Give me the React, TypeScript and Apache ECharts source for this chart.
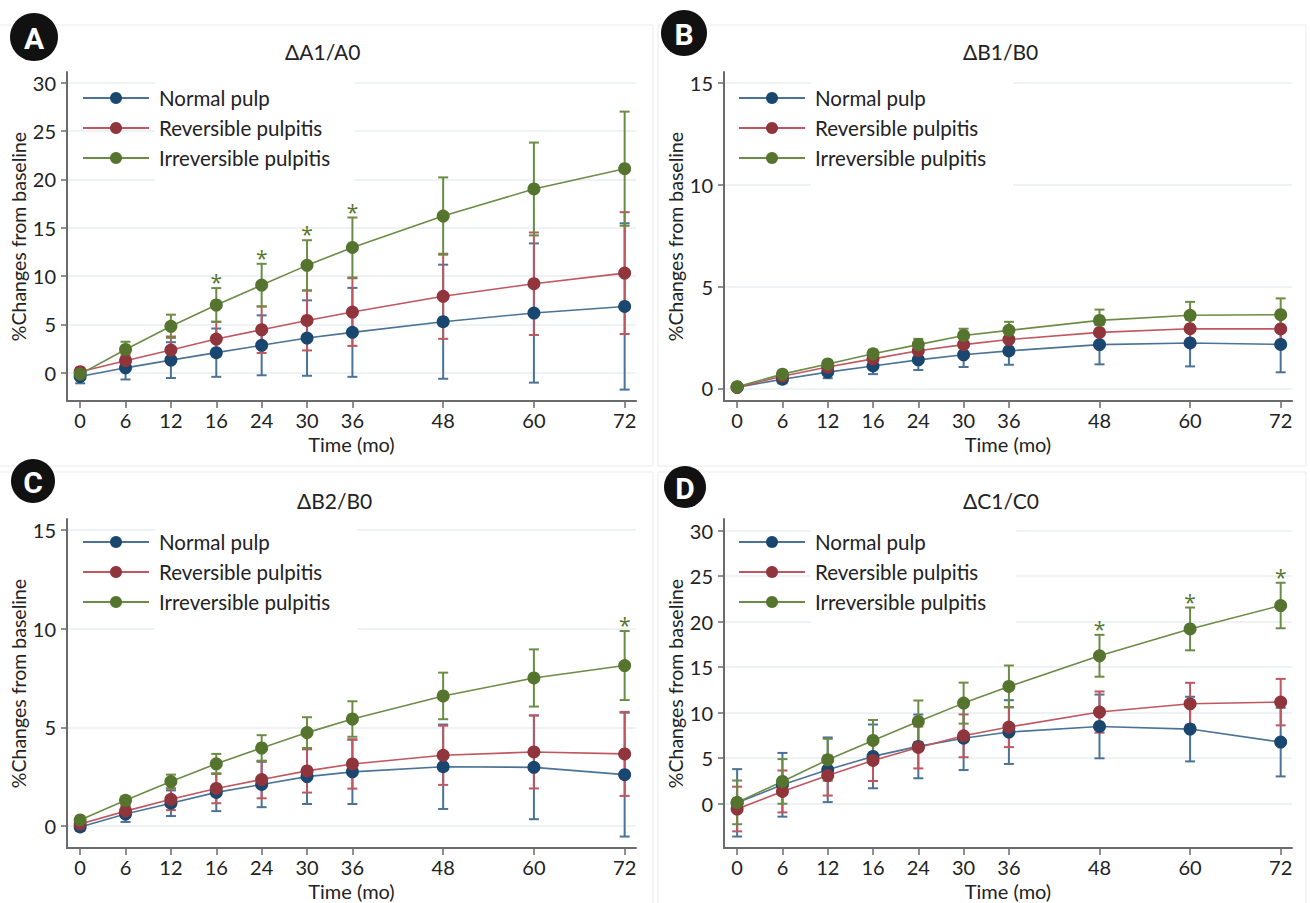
import React, { useEffect, useRef } from "react";
import * as echarts from "echarts";

// ---------- data ----------
const months = [0, 6, 12, 16, 24, 30, 36, 48, 60, 72];
// position of each visit on the (visit-spaced) x axis of the original figure
const visitSlot = [0, 1, 2, 3, 4, 5, 6, 8, 10, 12];
const groups = ["Normal pulp", "Reversible pulpitis", "Irreversible pulpitis"];

// Panel A  ΔA1/A0
const aNormal = [-0.4, 0.5, 1.3, 2.07, 2.83, 3.58, 4.17, 5.27, 6.17, 6.85];
const aNormalErr = [0.7, 1.2, 1.85, 2.5, 3.1, 3.9, 4.6, 5.9, 7.2, 8.6];
const aRev = [0.1, 1.24, 2.34, 3.48, 4.44, 5.4, 6.27, 7.9, 9.2, 10.3];
const aRevErr = [0.4, 0.7, 1.4, 1.8, 2.4, 3.1, 3.5, 4.4, 5.3, 6.3];
const aIrr = [-0.15, 2.4, 4.8, 7.0, 9.06, 11.1, 12.95, 16.2, 19.0, 21.1];
const aIrrErr = [0.3, 0.8, 1.2, 1.75, 2.2, 2.6, 3.1, 4.0, 4.8, 5.9];
const aSig = [16, 24, 30, 36];

// Panel B  ΔB1/B0
const bNormal = [0.05, 0.45, 0.8, 1.1, 1.4, 1.65, 1.84, 2.15, 2.23, 2.16];
const bNormalErr = [0.1, 0.2, 0.3, 0.4, 0.5, 0.6, 0.68, 0.97, 1.15, 1.37];
const bRev = [0.05, 0.6, 1.05, 1.45, 1.85, 2.15, 2.4, 2.75, 2.93, 2.92];
const bRevErr = [0.08, 0.15, 0.2, 0.25, 0.3, 0.35, 0.4, 0.5, 0.6, 0.7];
const bIrr = [0.08, 0.7, 1.2, 1.7, 2.15, 2.6, 2.85, 3.34, 3.59, 3.62];
const bIrrErr = [0.08, 0.12, 0.15, 0.2, 0.28, 0.33, 0.42, 0.53, 0.66, 0.8];
const bSig: number[] = [];

// Panel C  ΔB2/B0
const cNormal = [-0.05, 0.6, 1.15, 1.7, 2.1, 2.5, 2.74, 3.0, 2.97, 2.6];
const cNormalErr = [0.2, 0.4, 0.65, 0.95, 1.15, 1.39, 1.63, 2.14, 2.63, 3.14];
const cRev = [0.1, 0.75, 1.35, 1.9, 2.35, 2.79, 3.14, 3.58, 3.75, 3.65];
const cRevErr = [0.15, 0.3, 0.55, 0.75, 0.95, 1.1, 1.25, 1.5, 1.85, 2.13];
const cIrr = [0.3, 1.3, 2.25, 3.15, 3.95, 4.73, 5.42, 6.59, 7.5, 8.13];
const cIrrErr = [0.1, 0.2, 0.35, 0.5, 0.65, 0.78, 0.9, 1.18, 1.45, 1.75];
const cSig = [72];

// Panel D  ΔC1/C0
const dNormal = [0.1, 2.08, 3.73, 5.2, 6.3, 7.2, 7.87, 8.49, 8.2, 6.77];
const dNormalErr = [3.7, 3.5, 3.55, 3.5, 3.5, 3.5, 3.5, 3.5, 3.55, 3.77];
const dRev = [-0.58, 1.35, 3.1, 4.75, 6.18, 7.46, 8.42, 10.07, 10.98, 11.16];
const dRevErr = [2.45, 2.3, 2.2, 2.25, 2.3, 2.35, 2.2, 2.26, 2.3, 2.55];
const dIrr = [0.15, 2.45, 4.83, 6.95, 9.04, 11.05, 12.88, 16.25, 19.2, 21.77];
const dIrrErr = [2.4, 2.45, 2.3, 2.25, 2.3, 2.25, 2.3, 2.3, 2.35, 2.5];
const dSig = [48, 60, 72];

const titles = ["\u0394A1/A0", "\u0394B1/B0", "\u0394B2/B0", "\u0394C1/C0"];
const letters = ["A", "B", "C", "D"];
const yTicksWide = [0, 5, 10, 15, 20, 25, 30];
const yTicksNarrow = [0, 5, 10, 15];

const panels = [
  { means: [aNormal, aRev, aIrr], errs: [aNormalErr, aRevErr, aIrrErr], sig: aSig, yMin: -2.93, yMax: 31.1, yTicks: yTicksWide },
  { means: [bNormal, bRev, bIrr], errs: [bNormalErr, bRevErr, bIrrErr], sig: bSig, yMin: -0.62, yMax: 15.54, yTicks: yTicksNarrow },
  { means: [cNormal, cRev, cIrr], errs: [cNormalErr, cRevErr, cIrrErr], sig: cSig, yMin: -1.12, yMax: 15.56, yTicks: yTicksNarrow },
  { means: [dNormal, dRev, dIrr], errs: [dNormalErr, dRevErr, dIrrErr], sig: dSig, yMin: -4.86, yMax: 31.27, yTicks: yTicksWide },
];

// ---------- layout / style ----------
const FONT = "Lato, 'Noto Sans', 'DejaVu Sans', sans-serif";
const markerColors = ["#1a476f", "#90353b", "#55752f"];
const lineColors = ["#4a7396", "#c0565f", "#6b8c45"];
const axisColor = "#6b6b6b";
const textColor = "#222222";

const grids = [
  { left: 67, top: 72, width: 569, height: 329 },
  { left: 724, top: 72, width: 568, height: 329 },
  { left: 67, top: 519, width: 569, height: 329 },
  { left: 724, top: 519, width: 568, height: 329 },
];
const legendPos = [
  { left: 82, top: 87 },
  { left: 738, top: 87 },
  { left: 82, top: 531 },
  { left: 738, top: 531 },
];
const titlePos = [
  { left: 285, top: 41 },
  { left: 963, top: 41 },
  { left: 297, top: 490 },
  { left: 963, top: 490 },
];
const maskRects = [
  { x: 155, y: 74, width: 200, height: 114 },
  { x: 811, y: 74, width: 202, height: 114 },
  { x: 155, y: 521, width: 202, height: 122 },
  { x: 811, y: 521, width: 205, height: 112 },
];
const frameRects = [
  { x: -2, y: 25, width: 655, height: 441 },
  { x: 658, y: 25, width: 648, height: 441 },
  { x: -2, y: 472, width: 655, height: 440 },
  { x: 658, y: 472, width: 648, height: 440 },
];
const badges = [
  { cx: 34, cy: 37, r: 24 },
  { cx: 684, cy: 33, r: 23 },
  { cx: 33, cy: 481, r: 22 },
  { cx: 685, cy: 487, r: 21 },
];

function errRender(color: string) {
  return (params: any, api: any) => {
    const x = api.value(0);
    const lo = api.value(1);
    const hi = api.value(2);
    const a = api.coord([x, lo]);
    const b = api.coord([x, hi]);
    const hw = 5;
    const st = { stroke: color, lineWidth: 2 };
    return {
      type: "group",
      children: [
        { type: "line", shape: { x1: a[0], y1: a[1], x2: b[0], y2: b[1] }, style: st },
        { type: "line", shape: { x1: a[0] - hw, y1: a[1], x2: a[0] + hw, y2: a[1] }, style: st },
        { type: "line", shape: { x1: b[0] - hw, y1: b[1], x2: b[0] + hw, y2: b[1] }, style: st },
      ],
    };
  };
}

function starRender(color: string) {
  return (params: any, api: any) => {
    const p = api.coord([api.value(0), api.value(1)]);
    return {
      type: "text",
      x: p[0],
      y: p[1] - 6,
      style: {
        text: "*",
        fill: color,
        fontSize: 21,
        fontFamily: "'Open Sans', 'Noto Sans', sans-serif",
        textAlign: "center",
        textVerticalAlign: "middle",
      },
    };
  };
}

function buildOption() {
  const xAxis: any[] = [];
  const yAxis: any[] = [];
  const series: any[] = [];
  const legend: any[] = [];
  const title: any[] = [];
  const graphics: any[] = [];

  panels.forEach((p, i) => {
    xAxis.push({
      type: "value",
      gridIndex: i,
      min: -0.29,
      max: 12.25,
      axisLine: { show: true, onZero: false, lineStyle: { color: axisColor, width: 2 } },
      axisTick: { show: true, length: 7, customValues: visitSlot, lineStyle: { color: axisColor, width: 1.5 } },
      axisLabel: {
        customValues: visitSlot,
        formatter: (v: number) => String(months[visitSlot.indexOf(v)]),
        fontSize: 20,
        color: textColor,
        margin: 9,
        fontFamily: FONT,
      },
      splitLine: { show: false },
      name: "Time (mo)",
      nameLocation: "middle",
      nameGap: 33,
      nameTextStyle: { fontSize: 20, color: textColor, fontFamily: FONT },
    });
    yAxis.push({
      type: "value",
      gridIndex: i,
      min: p.yMin,
      max: p.yMax,
      axisLine: { show: true, onZero: false, lineStyle: { color: axisColor, width: 2 } },
      axisTick: { show: true, length: 6, customValues: p.yTicks, lineStyle: { color: axisColor, width: 1.5 } },
      axisLabel: {
        customValues: p.yTicks,
        fontSize: 20,
        color: textColor,
        margin: 11,
        fontFamily: FONT,
      },
      splitLine: { show: true, lineStyle: { color: "#e8eef2", width: 1.5 } },
      name: "%Changes from baseline",
      nameLocation: "middle",
      nameGap: 36,
      nameRotate: 90,
      nameTextStyle: { fontSize: 19.5, color: textColor, fontFamily: FONT },
    });

    p.means.forEach((m, g) => {
      series.push({
        type: "custom",
        name: groups[g] + " error",
        xAxisIndex: i,
        yAxisIndex: i,
        renderItem: errRender(lineColors[g]),
        encode: { x: 0, y: [1, 2] },
        data: visitSlot.map((s, k) => [s, m[k] - p.errs[g][k], m[k] + p.errs[g][k]]),
        z: 2,
        silent: true,
      });
    });
    p.means.forEach((m, g) => {
      series.push({
        type: "line",
        name: groups[g],
        xAxisIndex: i,
        yAxisIndex: i,
        data: visitSlot.map((s, k) => [s, m[k]]),
        symbol: "circle",
        symbolSize: 13,
        showSymbol: true,
        itemStyle: { color: markerColors[g] },
        lineStyle: { color: lineColors[g], width: 1.6 },
        z: 3,
      });
    });
    if (p.sig.length) {
      const gi = 2;
      series.push({
        type: "custom",
        name: "significant",
        xAxisIndex: i,
        yAxisIndex: i,
        renderItem: starRender(markerColors[gi]),
        encode: { x: 0, y: 1 },
        data: p.sig.map((mo) => {
          const k = months.indexOf(mo);
          return [visitSlot[k], p.means[gi][k] + p.errs[gi][k]];
        }),
        z: 4,
        silent: true,
      });
    }

    legend.push({
      orient: "vertical",
      left: legendPos[i].left,
      top: legendPos[i].top,
      padding: 0,
      data: groups,
      itemWidth: 66,
      itemHeight: 15,
      itemGap: 8,
      selectedMode: false,
      textStyle: { fontSize: 20.5, lineHeight: 22, color: textColor, fontFamily: FONT, padding: [0, 0, 0, 5] },
    });

    title.push({
      text: titles[i],
      left: titlePos[i].left,
      top: titlePos[i].top,
      padding: 0,
      textStyle: { fontSize: 21, fontWeight: "normal", color: textColor, fontFamily: FONT },
    });

    graphics.push({
      type: "rect",
      shape: frameRects[i],
      style: { fill: "none", stroke: "#ebebeb", lineWidth: 1 },
      z: 0,
      silent: true,
    });
    graphics.push({
      type: "rect",
      shape: maskRects[i],
      style: { fill: "#ffffff" },
      z: 1,
      silent: true,
    });
    graphics.push({
      type: "circle",
      shape: badges[i],
      style: { fill: "#111111" },
      z: 10,
      silent: true,
    });
    graphics.push({
      type: "text",
      x: badges[i].cx,
      y: badges[i].cy + 1,
      style: {
        text: letters[i],
        fill: "#ffffff",
        font: "bold 30px Roboto, 'Noto Sans', sans-serif",
        textAlign: "center",
        textVerticalAlign: "middle",
      },
      z: 11,
      silent: true,
    });
  });

  return {
    animation: false,
    backgroundColor: "#ffffff",
    grid: grids,
    xAxis,
    yAxis,
    series,
    legend,
    title,
    graphic: { elements: graphics },
  };
}

export default function App() {
  const ref = useRef<HTMLDivElement>(null);
  useEffect(() => {
    if (!ref.current) return;
    const chart = echarts.init(ref.current, undefined, { renderer: "svg" });
    chart.setOption(buildOption() as any);
    return () => chart.dispose();
  }, []);
  return (
    <div
      ref={ref}
      style={{ position: "fixed", left: 0, top: 0, width: 1310, height: 903, background: "#fff" }}
    />
  );
}
